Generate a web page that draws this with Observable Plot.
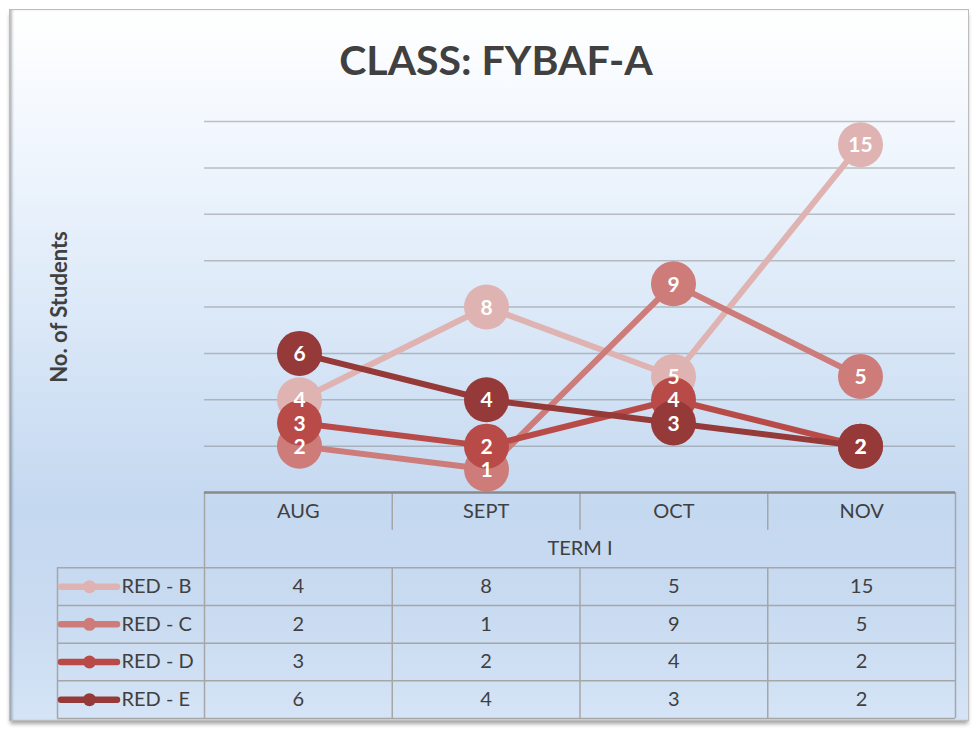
<!DOCTYPE html>
<html>
<head>
<meta charset="utf-8">
<script src="https://cdn.jsdelivr.net/npm/d3@7"></script>
<script src="https://cdn.jsdelivr.net/npm/@observablehq/plot@0.6"></script>
<style>
  html, body { margin: 0; padding: 0; background: #ffffff; }
  #wrap { position: relative; width: 972px; height: 729px; overflow: hidden; background: #ffffff; font-family: Lato, "Open Sans", sans-serif; }
  #frame {
    position: absolute; left: 9px; top: 9px; width: 960px; height: 712px;
    border: 1px solid #bcbcbc; box-sizing: border-box;
    background: linear-gradient(to bottom, #ffffff 0%, #f3f8fe 16%, #dce9f8 42%, #c4d8f0 70%, #c9dbf1 85%, #d5e4f6 100%);
    box-shadow: inset 3px 0 3px -1px rgba(0,0,0,0.28), 0 4px 4px -1px rgba(0,0,0,0.35);
  }
  #title {
    position: absolute; left: 0; top: 35px; width: 992px; text-align: center;
    font-family: Lato, "Open Sans", sans-serif; font-weight: 700; font-size: 41px; color: #404040;
  }
  .layer { position: absolute; left: 0; top: 0; }
</style>
</head>
<body>
<div id="wrap">
  <div id="frame"></div>
  <div id="title">CLASS: FYBAF-A</div>
  <div id="chart" class="layer"></div>
  <div id="table" class="layer"></div>
</div>
<script>
// ---- data ----
const months = ["AUG", "SEPT", "OCT", "NOV"];
const groupLabel = "TERM I";
const seriesNames = ["RED - B", "RED - C", "RED - D", "RED - E"];
const redB = [4, 8, 5, 15];
const redC = [2, 1, 9, 5];
const redD = [3, 2, 4, 2];
const redE = [6, 4, 3, 2];
const yTicks = [0, 2, 4, 6, 8, 10, 12, 14, 16];
const yLabel = "No. of Students";

// ---- styles ----
const palette = ["#dfb3b2", "#cd7c7a", "#b84b47", "#953a38"];
const textColor = "#404040";
const font = "Lato, 'Open Sans', sans-serif";

const seriesValues = [redB, redC, redD, redE];
const rows = seriesNames.flatMap((s, i) =>
  months.map((m, j) => ({series: s, si: i, month: m, mi: j, value: seriesValues[i][j]}))
);

// ---- chart ----
const W = 972, H = 729;
const mLeft = 204, mRight = 17;
const chartMarks = [
  Plot.ruleY(yTicks.filter(d => d > 0), {stroke: "#7c7c7c", strokeOpacity: 0.45, strokeWidth: 1.5}),
  Plot.text([yLabel], {frameAnchor: "left", dx: -145, rotate: -90, textAnchor: "middle", lineAnchor: "middle", fontSize: 22, fontWeight: "bold", fill: textColor, text: d => d})
];
seriesNames.forEach((s, i) => {
  const d = rows.filter(r => r.si === i);
  chartMarks.push(Plot.line(d, {x: "month", y: "value", stroke: palette[i], strokeWidth: 6}));
  chartMarks.push(Plot.dot(d, {x: "month", y: "value", r: 22.5, fill: palette[i], stroke: "none"}));
});
chartMarks.push(Plot.text(rows, {x: "month", y: "value", text: d => String(d.value), fill: "white", fontSize: 21, fontWeight: "bold", dy: 1}));

const chart = Plot.plot({
  width: W, height: H,
  marginLeft: mLeft, marginRight: mRight, marginTop: 121, marginBottom: H - 492,
  style: {background: "transparent", fontFamily: font, overflow: "visible"},
  x: {type: "point", domain: months, padding: 0.5, axis: null},
  y: {domain: [0, 16], axis: null},
  marks: chartMarks
});
document.getElementById("chart").append(chart);

// ---- data table ----
const colW = (W - mLeft - mRight) / months.length;
const px = p => (p - mLeft) / colW; // layout pixel -> column units
const tableLeft = px(57);
const keyX1 = px(61), keyX2 = px(117), keyDot = px(89), keyText = px(121);
const nRows = 2 + seriesNames.length;
const gridCol = "#a6a6a6";
const colIdx = months.map((_, i) => i);

const tableMarks = [
  Plot.ruleY(d3.range(2, nRows + 1), {x1: tableLeft, x2: months.length, stroke: gridCol, strokeWidth: 1.5}),
  Plot.ruleX([0, months.length], {y1: 0, y2: nRows, stroke: gridCol, strokeWidth: 1.5}),
  Plot.ruleX(colIdx.slice(1), {y1: 0, y2: 1, stroke: gridCol, strokeWidth: 1.5}),
  Plot.ruleX(colIdx.slice(1), {y1: 2, y2: nRows, stroke: gridCol, strokeWidth: 1.5}),
  Plot.ruleX([tableLeft], {y1: 2, y2: nRows, stroke: gridCol, strokeWidth: 1.5}),
  Plot.ruleY([0], {x1: 0, x2: months.length, stroke: "#8a8a8a", strokeWidth: 2.5}),
  Plot.text(months, {x: (d, i) => i + 0.5, y: 0.5, text: d => d, fontSize: 20, fill: textColor}),
  Plot.text([groupLabel], {x: months.length / 2, y: 1.5, text: d => d, fontSize: 20, fill: textColor}),
  Plot.text(rows, {x: d => d.mi + 0.5, y: d => d.si + 2.5, text: d => String(d.value), fontSize: 20, fill: textColor}),
  Plot.text(seriesNames, {x: keyText, y: (d, i) => i + 2.5, text: d => d, textAnchor: "start", fontSize: 20, fill: textColor})
];
seriesNames.forEach((s, i) => {
  tableMarks.push(Plot.ruleY([i + 2.5], {x1: keyX1, x2: keyX2, stroke: palette[i], strokeWidth: 6.5, strokeLinecap: "round"}));
  tableMarks.push(Plot.dot([i + 2.5], {x: keyDot, y: d => d, r: 6.5, fill: palette[i]}));
});

const table = Plot.plot({
  width: W, height: H,
  marginLeft: mLeft, marginRight: mRight, marginTop: 492, marginBottom: H - 718,
  style: {background: "transparent", fontFamily: font, overflow: "visible"},
  x: {type: "linear", domain: [0, months.length], axis: null},
  y: {type: "linear", domain: [0, nRows], reverse: true, axis: null},
  marks: tableMarks
});
document.getElementById("table").append(table);
</script>
</body>
</html>
